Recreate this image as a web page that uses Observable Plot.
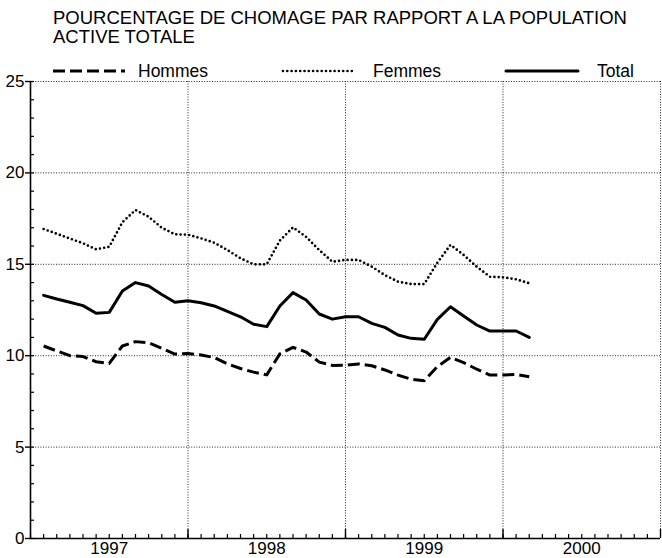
<!DOCTYPE html>
<html><head><meta charset="utf-8">
<script src="https://cdn.jsdelivr.net/npm/d3@7"></script>
<script src="https://cdn.jsdelivr.net/npm/@observablehq/plot@0.6"></script>
<style>
body{margin:0;background:#fff;font-family:"Liberation Sans",Arial,sans-serif;}
#wrap{position:relative;width:662px;height:558px;overflow:hidden;}
#chart{position:absolute;left:0;top:0;}
#title{position:absolute;left:53px;top:8px;font-size:18.5px;line-height:19px;color:#000;white-space:nowrap;}
#legend{position:absolute;left:0;top:60px;}
</style></head><body>
<div id="wrap"><div id="chart"></div>
<div id="title">POURCENTAGE DE CHOMAGE PAR RAPPORT A LA POPULATION<br>ACTIVE TOTALE</div>
<svg id="legend" width="662" height="24"></svg>
</div>
<script>
const months = ["1997-02","1997-03","1997-04","1997-05","1997-06","1997-07","1997-08","1997-09","1997-10","1997-11","1997-12",
"1998-01","1998-02","1998-03","1998-04","1998-05","1998-06","1998-07","1998-08","1998-09","1998-10","1998-11","1998-12",
"1999-01","1999-02","1999-03","1999-04","1999-05","1999-06","1999-07","1999-08","1999-09","1999-10","1999-11","1999-12",
"2000-01","2000-02","2000-03"];
const hommes = [10.53,10.26,10.00,9.95,9.67,9.58,10.53,10.77,10.71,10.40,10.09,
10.12,10.04,9.90,9.55,9.30,9.10,8.95,10.10,10.46,10.20,9.65,9.47,
9.48,9.55,9.45,9.22,8.94,8.71,8.63,9.40,9.91,9.62,9.26,8.94,
8.94,8.98,8.85];
const femmes = [16.93,16.67,16.41,16.15,15.82,15.96,17.30,17.97,17.60,17.00,16.64,
16.62,16.42,16.18,15.78,15.33,15.00,15.00,16.30,17.02,16.50,15.78,15.14,
15.24,15.24,14.87,14.41,14.05,13.92,13.92,15.09,16.06,15.51,14.87,14.32,
14.29,14.18,13.96];
const total = [13.30,13.10,12.92,12.74,12.32,12.37,13.54,14.00,13.81,13.35,12.92,
13.00,12.90,12.72,12.43,12.13,11.72,11.59,12.72,13.45,13.05,12.28,12.00,
12.13,12.13,11.77,11.55,11.13,10.95,10.90,11.99,12.68,12.17,11.68,11.35,
11.35,11.35,11.00];
const seriesNames = ["Hommes","Femmes","Total"];
const yearLabels = [1997,1998,1999,2000];
const yTicks = [0,5,10,15,20,25];
const xDomain = [1997,2001];
const yDomain = [0,25];

const toX = m => { const [y, mo] = m.split("-").map(Number); return y + (mo - 1) / 12; };
const rows = vals => months.map((m, i) => ({x: toX(m), y: vals[i]}));

const styles = {
  Hommes: {strokeDasharray: "12,5", strokeWidth: 3, strokeLinecap: "butt"},
  Femmes: {strokeDasharray: "0,4.3", strokeWidth: 2.7, strokeLinecap: "round"},
  Total: {strokeDasharray: null, strokeWidth: 3, strokeLinecap: "round"}
};
const seriesVals = {Hommes: hommes, Femmes: femmes, Total: total};

const monthTicks = d3.range(0, 48).map(i => xDomain[0] + i / 12);
const yearBounds = yearLabels.slice(1).concat([xDomain[1]]);
const yMinor = d3.range(yDomain[0], yDomain[1] + 1);

const gridStyle = {stroke: "#000", strokeOpacity: 0.85, strokeWidth: 1, strokeDasharray: "1,1.6"};

const plot = Plot.plot({
  width: 662, height: 558,
  marginTop: 81, marginBottom: 20, marginLeft: 30, marginRight: 2,
  style: {fontFamily: '"Liberation Sans", Arial, sans-serif', fontSize: "17px", color: "#000", background: "transparent"},
  x: {domain: xDomain, label: null},
  y: {domain: yDomain, label: null},
  marks: [
    Plot.gridY(yTicks.filter(d => d > 0), gridStyle),
    Plot.gridX(yearBounds, gridStyle),
    Plot.axisY(yMinor, {tickSize: 4, dx: 4, text: null, strokeWidth: 1.2, label: null}),
    Plot.axisY(yTicks, {tickSize: 5, tickPadding: 1, fontSize: 17, strokeWidth: 1.4, label: null}),
    Plot.axisX(monthTicks, {tickSize: 4, dy: -4, text: null, strokeWidth: 1.2, label: null}),
    Plot.axisX(yearBounds, {tickSize: 9, dy: -9, text: null, strokeWidth: 1.4, label: null}),
    Plot.axisX(yearLabels.map(y => y + 0.5), {tickSize: 0, tickPadding: 3, fontSize: 17, label: null, tickFormat: d => String(Math.floor(d))}),
    Plot.ruleX([xDomain[0]], {stroke: "#000", strokeWidth: 1.6}),
    Plot.ruleY([yDomain[0]], {stroke: "#000", strokeWidth: 1.6}),
    ...seriesNames.map(n => Plot.line(rows(seriesVals[n]), {x: "x", y: "y", stroke: "#000", strokeLinejoin: "round", ...styles[n]}))
  ]
});
document.getElementById("chart").appendChild(plot);

// legend
const legendPos = [{s: 53, e: 125, t: 138}, {s: 283, e: 354, t: 373}, {s: 506, e: 578, t: 597}];
const lg = d3.select("#legend");
seriesNames.forEach((n, i) => {
  const p = legendPos[i], st = styles[n];
  lg.append("line").attr("x1", p.s).attr("x2", p.e).attr("y1", 11).attr("y2", 11)
    .attr("stroke", "#000").attr("stroke-width", st.strokeWidth)
    .attr("stroke-linecap", st.strokeLinecap)
    .attr("stroke-dasharray", st.strokeDasharray);
  lg.append("text").attr("x", p.t).attr("y", 17).attr("font-size", "17.5px")
    .attr("font-family", '"Liberation Sans", Arial, sans-serif').text(n);
});
</script>
</body></html>
